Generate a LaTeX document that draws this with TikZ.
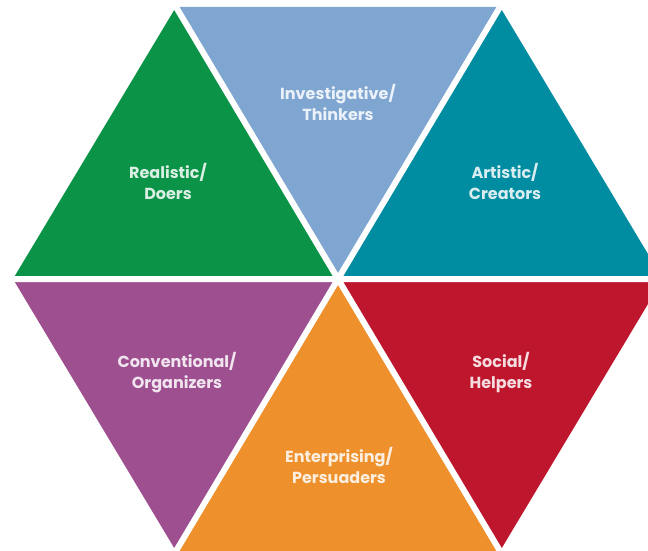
\documentclass[tikz,border=0pt]{standalone}
\usepackage{fontspec}
\setmainfont{Poppins}
\usetikzlibrary{positioning}

\definecolor{doergreen}{HTML}{0B9347}
\definecolor{thinkblue}{HTML}{7FA6D1}
\definecolor{creatteal}{HTML}{008CA1}
\definecolor{helpred}{HTML}{BE162D}
\definecolor{persorange}{HTML}{EE912C}
\definecolor{orgpurple}{HTML}{9D4F90}

\begin{document}
\begin{tikzpicture}[x=1pt,y=-1pt,
        sector/.style={fill=#1},
        gap/.style={white,line width=6pt},
        lbl/.style={text=white,text opacity=0.85,align=center,
            font=\fontsize{16}{21}\selectfont\bfseries}
    ]
    \useasboundingbox (0,0) rectangle (648,551);
    \clip (0,0) rectangle (648,551);

    % hexagon corners
    \coordinate (O) at (338,279);
    \coordinate (L) at (13,279);
    \coordinate (R) at (663,279);
    \coordinate (TL) at (176,7);
    \coordinate (TR) at (500,7);
    \coordinate (BL) at (176,551);
    \coordinate (BR) at (500,551);

    \fill[sector=doergreen] (O) -- (L) -- (TL) -- cycle;
    \fill[sector=thinkblue] (O) -- (TL) -- (TR) -- cycle;
    \fill[sector=creatteal] (O) -- (TR) -- (R) -- cycle;
    \fill[sector=helpred] (O) -- (R) -- (BR) -- cycle;
    \fill[sector=persorange] (O) -- (BR) -- (BL) -- cycle;
    \fill[sector=orgpurple] (O) -- (BL) -- (L) -- cycle;

    \draw[gap] (L) -- (R) (TL) -- (BR) (TR) -- (BL);

    \node[lbl] (thinkers) at (338,102) {Investigative/\\Thinkers};
    \node[lbl] (doers) at (168,181) {Realistic/\\Doers};
    \node[lbl] (creators) at (505,181) {Artistic/\\Creators};
    \node[lbl] (organizers) at (177,373) {Conventional/\\Organizers};
    \node[lbl] (helpers) at (501,373) {Social/\\Helpers};
    \node[lbl] (persuaders) at (339,465) {Enterprising/\\Persuaders};

\end{tikzpicture}
\end{document}
